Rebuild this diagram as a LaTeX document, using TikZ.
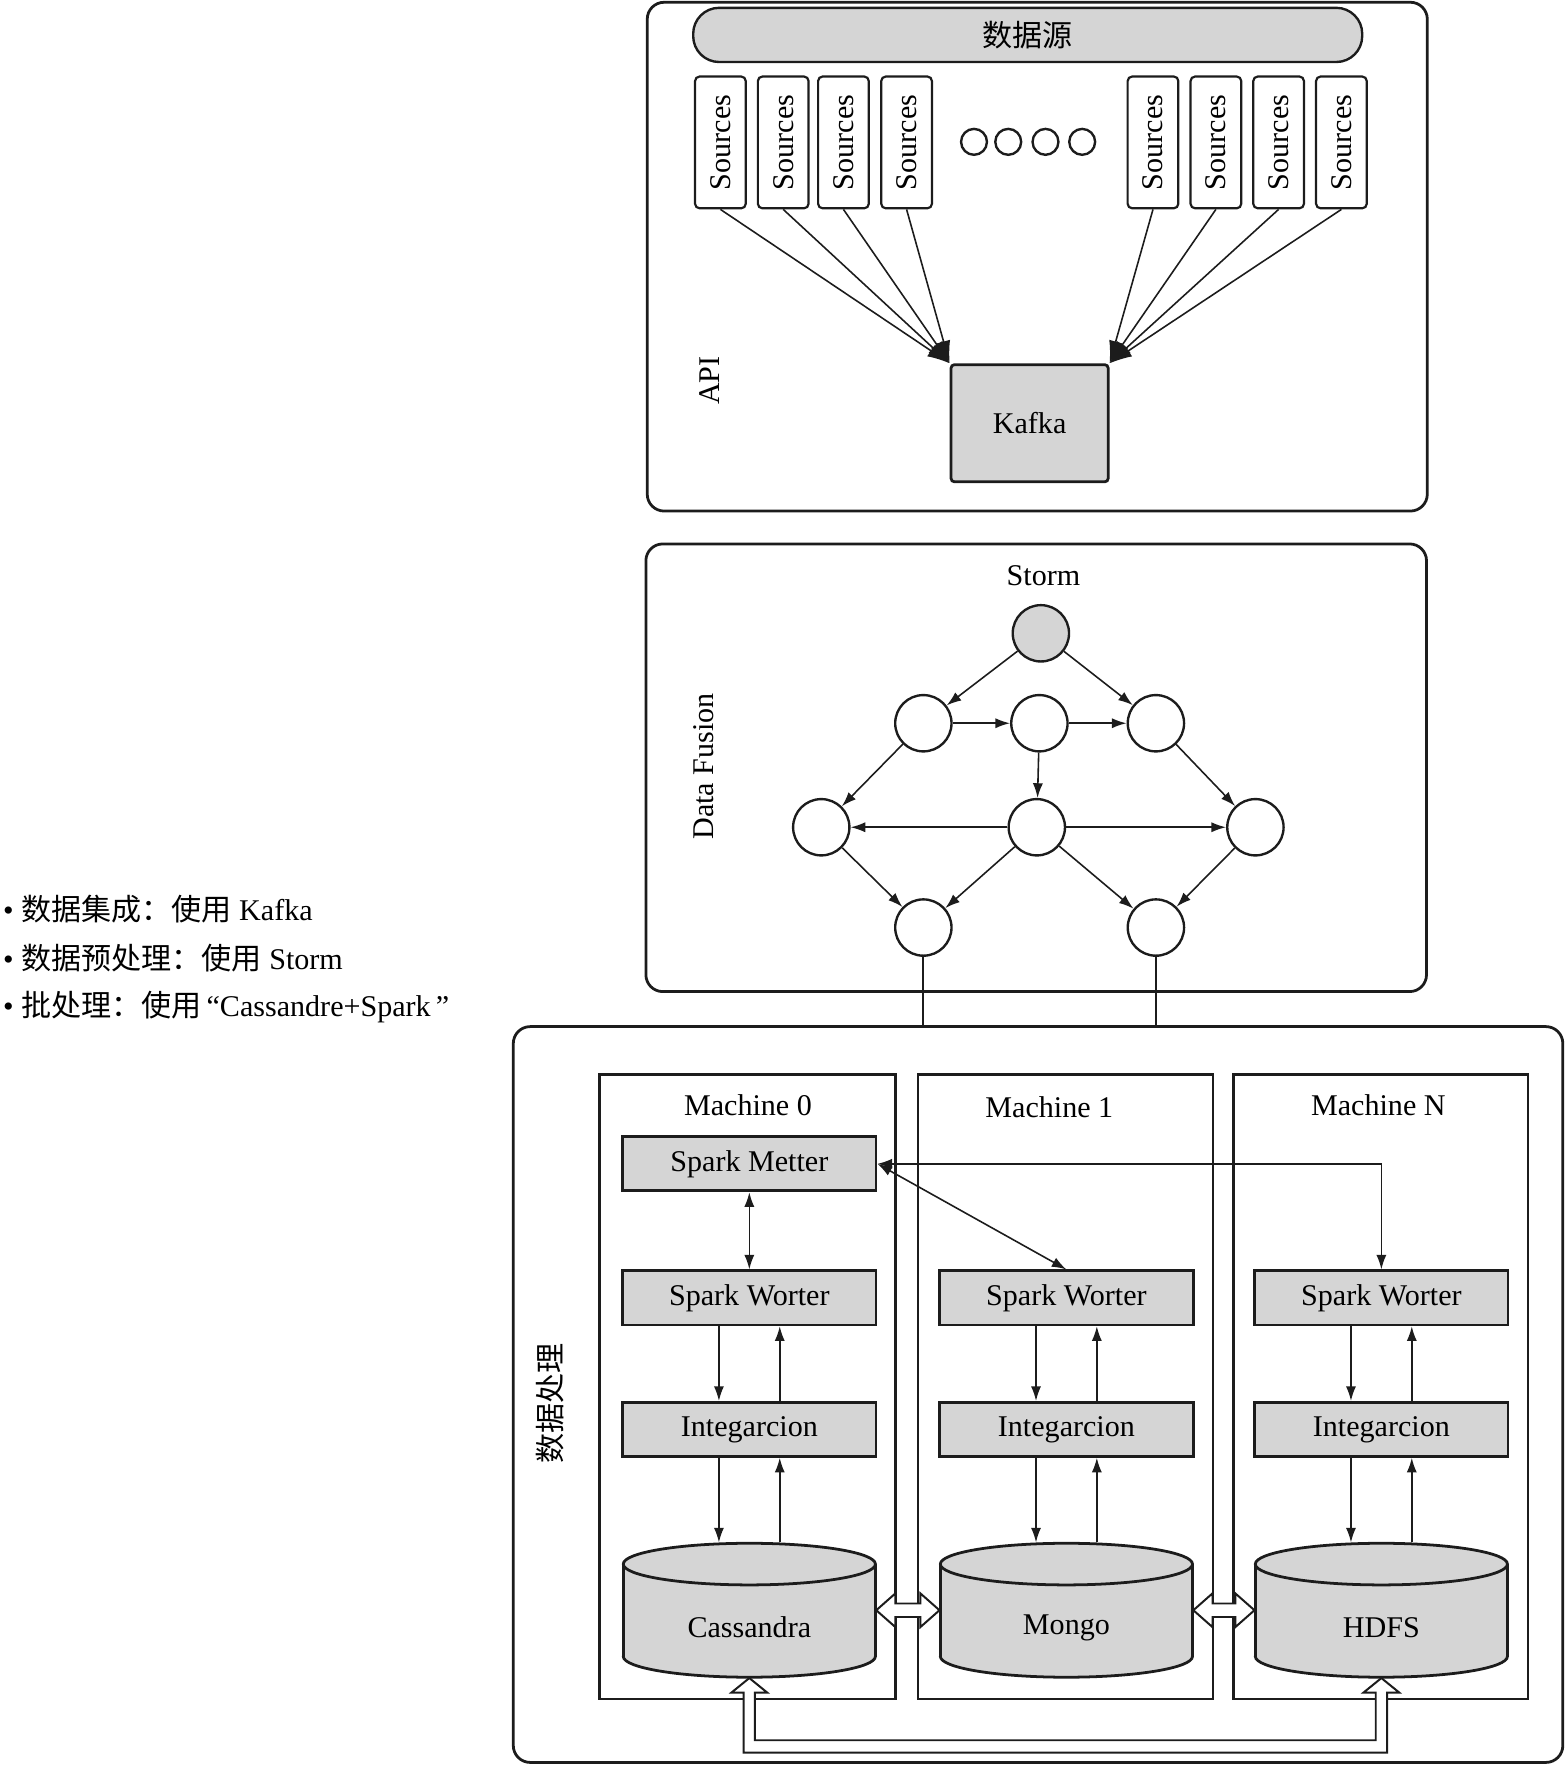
\documentclass[tikz,border=0pt]{standalone}
\usepackage{fontspec}
\setmainfont{Liberation Serif}
\newfontfamily\cjk{Noto Sans CJK SC}
\usetikzlibrary{arrows.meta,calc}
\definecolor{BoxGray}{HTML}{D5D5D5}
\definecolor{LineBlack}{HTML}{1C1C1C}

\begin{document}
\begin{tikzpicture}[x=0.01cm,y=-0.01cm,
    font=\fontsize{7.6}{9}\selectfont,
    panel/.style={draw=LineBlack,line width=0.7pt,rounded corners=0.15cm},
    srcbox/.style={draw=LineBlack,line width=0.55pt,rounded corners=0.04cm,rotate=90,
      minimum width=1.17cm,minimum height=0.45cm,inner sep=0pt},
    graybox/.style={draw=LineBlack,line width=0.7pt,fill=BoxGray,
      minimum width=2.25cm,minimum height=0.48cm,inner sep=0pt},
    vertex/.style={draw=LineBlack,line width=0.6pt,circle,minimum size=0.5cm,inner sep=0pt},
    flow/.style={-{Latex[length=1.3mm,width=0.9mm]},line width=0.4pt,draw=LineBlack},
    dflow/.style={{Latex[length=1.3mm,width=0.9mm]}-{Latex[length=1.3mm,width=0.9mm]},line width=0.4pt,draw=LineBlack},
    bigflow/.style={-{Latex[length=2mm,width=1.2mm]},line width=0.4pt,draw=LineBlack},
    hollow/.style={draw=LineBlack,line width=0.5pt,fill=white}
  ]
    \useasboundingbox (0,0) rectangle (1391,1568);

    % list on the left
    \node[anchor=west,inner sep=0pt] (li1) at (2,808) {\textbullet\ {\cjk 数据集成：使用} Kafka};
    \node[anchor=west,inner sep=0pt] (li2) at (2,851) {\textbullet\ {\cjk 数据预处理：使用} Storm};
    \node[anchor=west,inner sep=0pt] (li3) at (2,895) {\textbullet\ {\cjk 批处理：使用}\,“Cassandre+Spark\,”};

    % API / Kafka
    \draw[panel] (575,2) rectangle (1268,454);
    \node[draw=LineBlack,line width=0.6pt,fill=BoxGray,rounded corners=0.23cm,
      minimum width=5.94cm,minimum height=0.46cm] (datasrc) at (913,31) {{\cjk 数据源}};
    \foreach \x [count=\i] in {640,695.8,749.3,805.4,1024.3,1080.2,1135.9,1191.7}
      \node[srcbox] (s\i) at (\x,126.5) {Sources};
    \foreach \x [count=\i] in {865.3,895.7,928.8,961.4}
      \node[draw=LineBlack,line width=0.6pt,circle,minimum size=0.23cm,inner sep=0pt] (dot\i) at (\x,126) {};
    \node[draw=LineBlack,line width=0.7pt,fill=BoxGray,rounded corners=0.03cm,
      minimum width=1.395cm,minimum height=1.04cm] (kafka) at (914.7,376) {Kafka};
    \foreach \i in {1,...,4}
      \draw[bigflow] (s\i.west) -- (kafka.north west);
    \foreach \i in {5,...,8}
      \draw[bigflow] (s\i.west) -- (kafka.north east);
    \node[rotate=90] (api) at (630,338) {API};

    % Storm
    \draw[panel] (573.8,483.2) rectangle (1267.3,880.9);
    \node (storm) at (927,511) {Storm};
    \node[rotate=90] (fusion) at (625,681) {Data Fusion};
    \node[vertex,fill=BoxGray] (root) at (924.7,562.6) {};
    \node[vertex] (a1) at (820.3,642.5) {};
    \node[vertex] (a2) at (923.4,642.5) {};
    \node[vertex] (a3) at (1026.9,642.5) {};
    \node[vertex] (b1) at (729.6,734.9) {};
    \node[vertex] (b2) at (921.1,734.9) {};
    \node[vertex] (b3) at (1115.3,734.9) {};
    \node[vertex] (c1) at (820.3,824) {};
    \node[vertex] (c2) at (1026.9,824) {};
    \foreach \u/\v in {root/a1,root/a3,a1/a2,a2/a3,a1/b1,a2/b2,a3/b3,b2/b1,b2/b3,b1/c1,b2/c1,b2/c2,b3/c2}
      \draw[flow] (\u) -- (\v);
    \coordinate (proctop) at (0,912);
    \draw[line width=0.5pt,LineBlack] (c1) -- (c1 |- proctop);
    \draw[line width=0.5pt,LineBlack] (c2) -- (c2 |- proctop);

    % batch processing
    \draw[panel] (456,912) rectangle (1388.4,1565.7);
    \node[rotate=90] (proc) at (489,1247) {{\cjk 数据处理}};
    \draw[LineBlack,line width=0.65pt] (532.7,954.3) rectangle (795.6,1509.5);
    \draw[LineBlack,line width=0.65pt] (815.5,954.3) rectangle (1077.7,1509.5);
    \draw[LineBlack,line width=0.65pt] (1095.7,954.3) rectangle (1357.5,1509.5);
    \node (m0) at (664.5,982) {Machine 0};
    \node (m1) at (932.2,984) {Machine 1};
    \node (mN) at (1224.5,982) {Machine N};

    \node[graybox] (meter) at (665.7,1033.9) {Spark Metter};
    \foreach \n/\x/\db in {0/665.7/Cassandra,1/947.4/Mongo,N/1227.2/HDFS} {
      \node[graybox] (w\n) at (\x,1153) {Spark Worter};
      \node[graybox] (i\n) at (\x,1269.8) {Integarcion};
      % cylinder
      \filldraw[fill=BoxGray,draw=LineBlack,line width=0.7pt] (\x,1471.5) ellipse [x radius=112,y radius=18.5];
      \fill[BoxGray] (\x-112,1389.5) rectangle (\x+112,1471.5);
      \draw[LineBlack,line width=0.7pt] (\x-112,1389.5) -- (\x-112,1471.5) (\x+112,1389.5) -- (\x+112,1471.5);
      \filldraw[fill=BoxGray,draw=LineBlack,line width=0.7pt] (\x,1389.5) ellipse [x radius=112,y radius=18.5];
      \node[minimum width=2.24cm,minimum height=1.19cm,inner sep=0pt] (db\n) at (\x,1430.5) {};
      \node (db\n-label) at (\x,1446) {\db};
      \draw[flow] ([xshift=-0.27cm]w\n.south) -- ([xshift=-0.27cm]i\n.north);
      \draw[flow] ([xshift=0.27cm]i\n.north) -- ([xshift=0.27cm]w\n.south);
      \draw[flow] ([xshift=-0.27cm]i\n.south) -- ([xshift=-0.27cm]db\n.north);
      \draw[flow] ([xshift=0.27cm]db\n.north) -- ([xshift=0.27cm]i\n.south);
    }
    \draw[dflow] (meter) -- (w0);
    \draw[dflow] (meter.east) -- (w1.north);
    \draw[dflow] (meter.east) -| (wN.north);

    % hollow arrows between the stores
    \draw[hollow] (db0.east) -- ++(17,-15) -- ++(0,9) -- ($(db1.west)+(-17,-6)$) -- ++(0,-9)
      -- (db1.west) -- ++(-17,15) -- ++(0,-9) -- ($(db0.east)+(17,6)$) -- ++(0,9) -- cycle;
    \draw[hollow] (db1.east) -- ++(17,-15) -- ++(0,9) -- ($(dbN.west)+(-17,-6)$) -- ++(0,-9)
      -- (dbN.west) -- ++(-17,15) -- ++(0,-9) -- ($(db1.east)+(17,6)$) -- ++(0,9) -- cycle;
    \draw[hollow] (db0.south) -- ++(16,13) -- ++(-11,0) -- ($(db0.south |- 0,1546)+(5,0)$)
      -- ($(dbN.south |- 0,1546)+(-5,0)$) -- ($(dbN.south)+(-5,13)$) -- ++(-11,0)
      -- (dbN.south) -- ++(16,13) -- ++(-11,0) -- ($(dbN.south |- 0,1557)+(5,0)$)
      -- ($(db0.south |- 0,1557)+(-5,0)$) -- ($(db0.south)+(-5,13)$) -- ++(-11,0) -- cycle;
  \end{tikzpicture}
\end{document}
